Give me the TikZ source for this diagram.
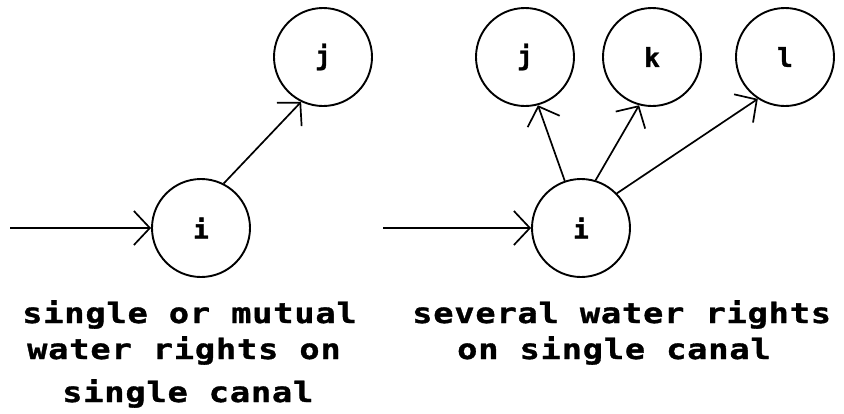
\documentclass[tikz,border=0pt]{standalone}
\usepackage{fontspec}
\newfontfamily\capfont{DejaVu Sans Mono}[FakeStretch=1.2, LetterSpace=3, FakeBold=1.2]
\newfontfamily\lblfont{DejaVu Sans Mono}[FakeBold=1.2]
\usetikzlibrary{arrows.meta}
\begin{document}
\begin{tikzpicture}[x=1pt,y=-1pt,
  state/.style={circle, draw, line width=1.9pt, minimum size=98pt, inner sep=0pt, font=\lblfont\bfseries\fontsize{26}{26}\selectfont},
  flow/.style={line width=1.7pt, -{Straight Barb[length=16pt,width=34pt,line width=1.7pt]}},
  captext/.style={anchor=base west, inner sep=0pt, font=\capfont\bfseries\fontsize{28}{28}\selectfont}]
\useasboundingbox (0,0) rectangle (844,413);
% left diagram
\node[state] (li) at (201,228) {i};
\node[state] (lj) at (323,57) {j};
\coordinate (lin) at (10,228);
\draw[flow] (lin) -- (li.west);
\draw[flow] (li.63) -- (lj.244);
% right diagram
\node[state] (ri) at (581,228) {i};
\node[state] (rj) at (525,57) {j};
\node[state] (rk) at (652,57) {k};
\node[state] (rl) at (785,57) {l};
\coordinate (rin) at (383,228);
\draw[flow] (rin) -- (ri.west);
\draw[flow] (ri.109) -- (rj.285);
\draw[flow] (ri.73) -- (rk.255);
\draw[flow] (ri.44) -- (rl.237);
% captions
\node[captext] (t1) at (22,323) {single or mutual};
\node[captext] (t2) at (27,359) {water rights on};
\node[captext] (t3) at (62,402) {single canal};
\node[captext] (t4) at (412,323) {several water rights};
\node[captext] (t5) at (457,359) {on single canal};
\end{tikzpicture}
\end{document}
